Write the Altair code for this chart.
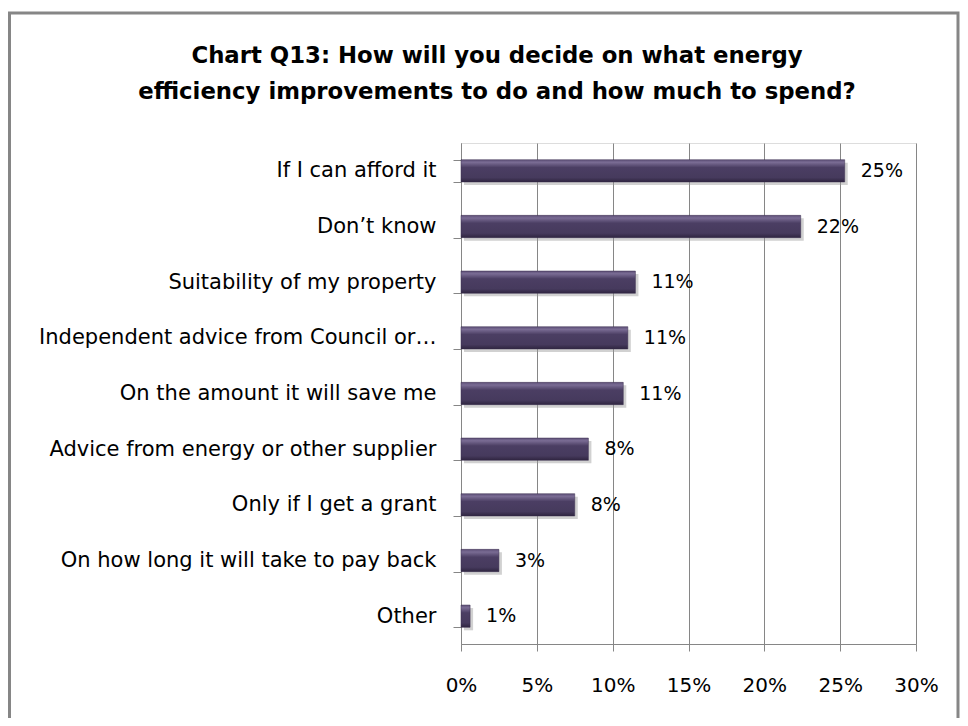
import altair as alt
import pandas as pd

categories = [
    "If I can afford it",
    "Don’t know",
    "Suitability of my property",
    "Independent advice from Council or…",
    "On the amount it will save me",
    "Advice from energy or other supplier",
    "Only if I get a grant",
    "On how long it will take to pay back",
    "Other",
]
values = [25.3, 22.4, 11.5, 11.0, 10.7, 8.4, 7.5, 2.5, 0.6]
labels = ["25%", "22%", "11%", "11%", "11%", "8%", "8%", "3%", "1%"]
tick_values = [0, 5, 10, 15, 20, 25, 30]
title_lines = "Chart Q13: How will you decide on what energy\nefficiency improvements to do and how much to spend?"

df = pd.DataFrame({"cat": categories, "val": values, "lab": labels})

FONT = "DejaVu Sans"
GRAY = "#868686"

y_enc = alt.Y(
    "cat:N",
    sort=categories,
    scale=alt.Scale(paddingInner=0.6, paddingOuter=0.3),
    axis=alt.Axis(
        title=None,
        tickBand="extent",
        domainColor=GRAY,
        domainWidth=1,
        tickColor=GRAY,
        tickSize=8,
        labelPadding=17,
        labelFont=FONT,
        labelFontSize=21,
        labelColor="#000000",
        labelLimit=0,
        grid=False,
    ),
)
x_enc = alt.X(
    "val:Q",
    scale=alt.Scale(domain=[0, 30], nice=False),
    axis=alt.Axis(
        title=None,
        values=tick_values,
        labelExpr="datum.value + '%'",
        labelFlush=False,
        grid=True,
        gridColor=GRAY,
        gridWidth=1,
        domainColor=GRAY,
        tickColor=GRAY,
        tickSize=7,
        labelPadding=24,
        labelFont=FONT,
        labelFontSize=20,
        labelColor="#000000",
    ),
)

base = alt.Chart(df)

shadow = base.mark_bar(color="#9a9a9a", opacity=0.45, xOffset=3, yOffset=3).encode(
    x=x_enc, y=y_enc
)

bars = base.mark_bar(
    color=alt.Gradient(
        gradient="linear",
        x1=0, x2=0, y1=0, y2=1,
        stops=[
            alt.GradientStop(color="#5e5078", offset=0),
            alt.GradientStop(color="#7a6c94", offset=0.12),
            alt.GradientStop(color="#4b3e63", offset=0.35),
            alt.GradientStop(color="#463a5d", offset=0.8),
            alt.GradientStop(color="#2f2540", offset=1),
        ],
    ),
    stroke="#3a2e4f",
    strokeWidth=0.5,
).encode(x=x_enc, y=y_enc)

text = base.mark_text(align="left", baseline="middle", dx=16, font=FONT, fontSize=19, color="#000000").encode(
    x="val:Q", y=alt.Y("cat:N", sort=categories), text="lab:N"
)

one = pd.DataFrame({"a": [0]})

frame = alt.Chart(one).mark_rect(fill=None, stroke=GRAY, strokeWidth=3).encode(
    x=alt.value(-451.5), x2=alt.value(497), y=alt.value(-130), y2=alt.value(600)
)

title = alt.Chart(one).mark_text(
    align="center",
    baseline="alphabetic",
    font=FONT,
    fontSize=22.8,
    fontWeight="bold",
    color="#000000",
    lineBreak="\n",
    lineHeight=36,
).encode(x=alt.value(36), y=alt.value(-80), text=alt.value(title_lines))

chart = (
    alt.layer(frame, shadow, bars, text, title)
    .properties(
        width=455,
        height=501,
        autosize=alt.AutoSizeParams(type="none"),
        padding={"left": 453, "top": 135, "right": 44, "bottom": 74},
    )
    .configure_view(stroke=None)
    .configure(background="white")
)

chart.save("out.html", embed_options={"renderer": "svg", "actions": False})
